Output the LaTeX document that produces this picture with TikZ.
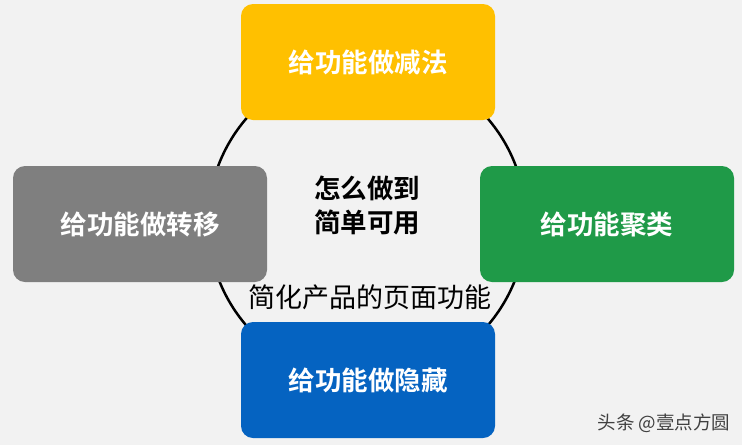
\documentclass[tikz,border=0pt]{standalone}
\usepackage{fontspec}
\newfontfamily\cjk{Noto Sans CJK SC}
\newfontfamily\cjkb{Noto Sans CJK SC Bold}
\definecolor{bg}{HTML}{F2F2F2}
\definecolor{cy}{HTML}{FFC000}
\definecolor{cg}{HTML}{7F7F7F}
\definecolor{cgr}{HTML}{1F9A48}
\definecolor{cb}{HTML}{0563C1}
\begin{document}
\begin{tikzpicture}[x=1pt,y=-1pt,
  box/.style={draw=none,rounded corners=12pt,minimum width=254pt,minimum height=116pt,text=white,font=\cjkb\fontsize{26.5}{30}\selectfont}]
\fill[bg] (0,0) rectangle (742,445);
\useasboundingbox (0,0) rectangle (742,445);
\draw[line width=2.5pt] (367,222) circle (159);
\node[box,fill=cy] (t) at (368,62) {给功能做减法};
\node[box,fill=cg] (l) at (140,224) {给功能做转移};
\node[box,fill=cgr] (r) at (607,224) {给功能聚类};
\node[box,fill=cb] (b) at (368,380) {给功能做隐藏};
\node[font=\cjkb\fontsize{26.5}{34}\selectfont,align=center] (c) at (367,205) {怎么做到\\简单可用};
\node[font=\cjk\fontsize{27}{30}\selectfont] (s) at (370,297) {简化产品的页面功能};
\node[font=\cjk\fontsize{18.5}{22}\selectfont,text=black!75] (w) at (664,423) {头条 @壹点方圆};
\end{tikzpicture}
\end{document}
